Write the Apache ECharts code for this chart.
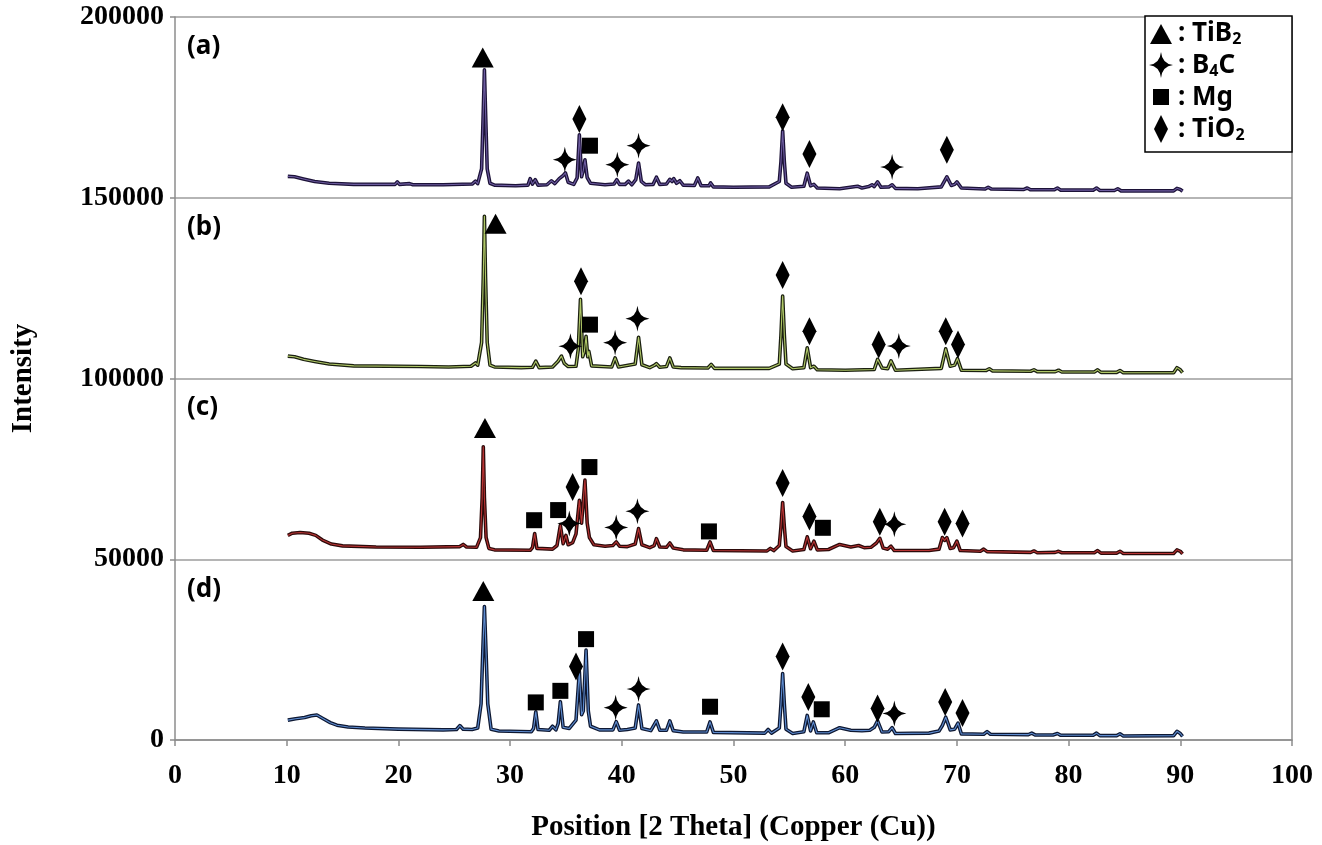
<!DOCTYPE html>
<html>
<head>
<meta charset="utf-8">
<script src="https://cdn.jsdelivr.net/npm/echarts@6/dist/echarts.min.js"></script>
<style>
  html, body { margin: 0; padding: 0; background: #fff; }
  #chart { width: 1322px; height: 845px; }
</style>
</head>
<body>
<div id="chart"></div>
<script>
// XRD patterns of four samples, stacked with 50000-count offsets.
const sampleLabels = ['(a)', '(b)', '(c)', '(d)'];
const phaseNames = ['TiB2', 'B4C', 'Mg', 'TiO2'];

// [2θ, intensity] profiles
const patternA = [
  [10.1,155900],[10.7,155800],[11.5,155200],[12.5,154500],[13.8,154000],[16,153700],[19.7,153700],[19.9,154400],[20.1,153700],[21,153900],[21.3,153600],[24,153600],[26.6,153800],[26.9,154600],[27.1,153900],[27.45,158000],[27.6,174000],[27.7,185400],[27.8,174000],[27.95,158000],[28.2,154000],[28.6,153500],[30.5,153300],[31.6,153500],[31.8,155300],[32.0,153800],[32.25,155000],[32.5,153500],[33.3,153600],[33.7,154700],[34.0,153900],[34.4,155300],[34.7,156000],[34.95,156900],[35.2,154300],[35.7,153700],[36.0,155500],[36.2,167400],[36.4,155800],[36.55,157500],[36.7,160500],[36.9,155600],[37.2,154000],[38.5,153600],[39.3,153800],[39.55,155000],[39.8,153700],[40.3,153700],[40.6,154600],[40.9,153600],[41.25,155000],[41.5,159600],[41.75,154500],[42.1,153600],[42.8,153700],[43.1,155700],[43.4,153700],[44.0,153800],[44.3,155100],[44.5,154500],[44.65,155300],[44.9,154000],[45.2,154700],[45.5,153500],[46.5,153400],[46.8,155500],[47.1,153300],[47.8,153300],[47.95,154100],[48.2,153000],[50,152900],[53.2,153000],[54.1,154500],[54.25,160000],[54.4,168500],[54.55,160000],[54.7,154000],[55.2,152900],[56.3,153200],[56.6,156800],[56.9,153300],[57.2,153700],[57.5,152700],[59.5,152500],[61.1,153200],[61.5,152700],[62.1,153100],[62.4,153600],[62.6,153100],[62.9,154400],[63.2,152900],[63.9,153000],[64.2,153600],[64.5,152600],[66.5,152500],[68.6,153000],[69.1,155800],[69.5,153400],[69.8,153700],[70.0,154400],[70.4,152700],[72.5,152400],[72.8,152900],[73.1,152400],[76.0,152300],[76.3,152700],[76.6,152200],[78.7,152200],[79.0,152700],[79.3,152100],[82.2,152100],[82.5,152700],[82.8,152000],[84.1,152000],[84.4,152500],[84.7,151900],[89.4,151900],[89.7,152600],[90.0,152300],[90.2,151800]
];
const patternB = [
  [10.1,106200],[10.7,106000],[11.5,105300],[12.5,104700],[13.8,104000],[16,103500],[22,103300],[24.5,103200],[26.5,103400],[26.9,104300],[27.1,103700],[27.45,110000],[27.6,128000],[27.7,144900],[27.8,128000],[27.95,110000],[28.2,103700],[28.6,103200],[31,103000],[32.0,103100],[32.3,104800],[32.6,103000],[33.8,103200],[34.3,104800],[34.6,106200],[34.85,104200],[35.0,104500],[35.2,103300],[35.9,103400],[36.1,108000],[36.3,121900],[36.5,106000],[36.65,107500],[36.8,111700],[36.95,106000],[37.05,107500],[37.3,103500],[39.1,103200],[39.4,105700],[39.7,103200],[41.2,104000],[41.5,111400],[41.8,103800],[42.5,103000],[42.9,103600],[43.1,104100],[43.4,103100],[44.0,103300],[44.3,105700],[44.6,103200],[45.3,103000],[47.7,102900],[48.0,103900],[48.3,102800],[53.2,102800],[54.1,104000],[54.25,112000],[54.4,122800],[54.55,112000],[54.7,104000],[55.3,102700],[56.3,103000],[56.6,108500],[56.9,103000],[57.2,103400],[57.5,102400],[60,102300],[62.6,102500],[62.9,105300],[63.3,102900],[63.8,102700],[64.1,104900],[64.5,102300],[68.6,102800],[69.0,108200],[69.4,103400],[69.8,103700],[70.05,105500],[70.4,102300],[72.6,102200],[72.9,102700],[73.2,102100],[76.6,102000],[76.9,102400],[77.2,101900],[78.8,101900],[79.1,102300],[79.4,101800],[82.3,101800],[82.6,102400],[82.9,101700],[84.3,101700],[84.6,102200],[84.9,101600],[89.4,101600],[89.7,103000],[90.0,102400],[90.2,101600]
];
const patternC = [
  [10.1,56600],[10.5,57200],[11.2,57400],[12.0,57200],[12.6,56600],[13.2,55300],[14.0,54200],[15,53700],[18,53400],[22,53300],[25.5,53500],[25.8,54100],[26.1,53400],[27.0,53300],[27.35,56000],[27.5,67000],[27.6,81100],[27.7,67000],[27.85,56000],[28.1,53000],[28.6,52600],[31.8,52500],[32.0,53200],[32.2,57100],[32.4,53000],[33.8,52800],[34.2,53800],[34.5,59400],[34.75,54300],[35.0,56600],[35.2,54000],[35.6,54600],[35.9,57000],[36.2,66300],[36.4,60000],[36.55,60500],[36.7,71900],[36.9,60000],[37.1,56000],[37.5,54000],[38.5,53600],[39.2,53800],[39.5,54800],[39.8,53600],[40.5,53500],[41.2,54200],[41.5,58500],[41.8,54000],[42.5,53200],[42.9,53800],[43.1,55700],[43.4,53400],[44.0,53300],[44.3,54500],[44.6,53100],[45.5,52600],[47.6,52500],[47.9,54800],[48.2,52400],[53.0,52300],[53.3,53000],[53.6,52400],[54.1,53800],[54.25,59000],[54.4,65700],[54.55,59000],[54.7,53500],[55.3,52300],[56.3,52700],[56.6,56200],[56.9,52900],[57.2,55000],[57.5,52600],[58.5,52700],[59.5,54100],[60.5,53400],[61.2,53800],[61.7,53200],[62.3,53300],[62.8,54500],[63.1,55800],[63.4,53100],[63.8,52800],[64.1,53600],[64.4,52400],[67.5,52400],[68.4,52800],[68.7,56000],[68.9,55200],[69.1,56000],[69.4,53000],[69.7,53200],[70.0,55000],[70.3,52400],[72.1,52200],[72.4,52800],[72.7,52100],[76.6,51900],[76.9,52300],[77.2,51800],[78.8,51900],[79.1,52200],[79.4,51800],[82.3,51800],[82.6,52400],[82.9,51700],[84.3,51700],[84.6,52200],[84.9,51600],[89.4,51600],[89.7,52600],[90.0,52200],[90.2,51500]
];
const patternD = [
  [10.1,5500],[10.8,5900],[11.6,6200],[12.2,6700],[12.7,6900],[13.2,6000],[13.9,4800],[14.5,4100],[15.5,3600],[17,3300],[20,3000],[24,2800],[25.2,2900],[25.5,4000],[25.8,3000],[26.6,2900],[27.1,3300],[27.4,10000],[27.55,24000],[27.7,36900],[27.85,24000],[28.0,10000],[28.3,3000],[29,2500],[31.9,2300],[32.1,3200],[32.3,7800],[32.5,2900],[33.5,2700],[33.8,3800],[34.1,2800],[34.3,4500],[34.5,10600],[34.75,3500],[35.3,3200],[35.9,5500],[36.2,18900],[36.4,7000],[36.55,8000],[36.8,24900],[37.0,8000],[37.2,3800],[38,2800],[39.2,2800],[39.5,5100],[39.8,2700],[40.5,2900],[41.2,3300],[41.5,9700],[41.8,3200],[42.6,2600],[43.1,5300],[43.4,2700],[44.0,2700],[44.3,5300],[44.6,2600],[45.5,2200],[47.6,2200],[47.9,5000],[48.2,2100],[52.8,1900],[53.1,2900],[53.4,1900],[54.1,3300],[54.25,10000],[54.4,18400],[54.55,10000],[54.7,3000],[55.3,1800],[56.3,2300],[56.6,6800],[56.9,2500],[57.15,5000],[57.45,2000],[58.5,2000],[59.5,3400],[60.5,2700],[61.5,2600],[62.2,2700],[62.6,3500],[62.9,5300],[63.3,2200],[63.9,2300],[64.2,3400],[64.5,1800],[67.5,1900],[68.4,2500],[68.7,4000],[69.0,6300],[69.4,2800],[69.8,3000],[70.1,4700],[70.4,1700],[72.4,1600],[72.7,2300],[73.0,1600],[76.4,1500],[76.7,1900],[77,1400],[78.6,1400],[79,1800],[79.3,1300],[82.2,1300],[82.5,1900],[82.8,1200],[84.3,1200],[84.6,1700],[84.9,1100],[89.4,1200],[89.7,2400],[90.0,1800],[90.2,1000]
];

// Phase markers [2θ, height]
const markTiB2 = [[27.55,189100],[28.7,143100],[27.75,86600],[27.6,41500]];
const markB4C = [
  [34.9,160500],[39.6,159100],[41.5,164400],[64.2,158500],
  [35.4,108900],[39.4,109900],[41.4,116500],[64.8,109000],
  [35.3,59900],[39.5,58800],[41.4,63300],[64.4,59700],
  [39.45,8900],[41.5,14100],[64.4,7300]
];
const markMg = [
  [37.15,164400],
  [37.15,114900],
  [32.15,60800],[34.3,63600],[37.1,75500],[47.8,57700],[58.0,58700],
  [32.3,10400],[34.5,13600],[36.8,27900],[47.9,9200],[57.9,8500]
];
const markTiO2 = [
  [36.2,171800],[54.4,172300],[56.8,162100],[69.1,163300],
  [36.35,126900],[54.4,128600],[56.8,113100],[63.0,109400],[69.0,113100],[70.1,109400],
  [35.6,70000],[54.4,71100],[56.8,61800],[63.1,60400],[68.9,60400],[70.5,59900],
  [35.9,20300],[54.4,23100],[56.7,11900],[62.9,8700],[68.95,10500],[70.5,7500]
];

// Symbol outlines share a 24x28 box so legend icons and markers keep proportions
const symTriangle = 'path://M0,0M24,28M12,5L23,25L1,25Z';
const symStar = 'path://M0,0M24,28M12,1Q13.2,12.8 24,14Q13.2,15.2 12,27Q10.8,15.2 0,14Q10.8,12.8 12,1Z';
const symSquare = 'path://M0,0M24,28M4,6H20V22H4Z';
const symDiamond = 'path://M0,0M24,28M12,0L19,14L12,28L5,14Z';

const serif = '"Liberation Serif", "Times New Roman", serif';
const sans = '"Noto Sans", "Open Sans", sans-serif';

const traceStyles = [
  { data: patternA, outer: '#1c1238', inner: '#6d5ca0' },
  { data: patternB, outer: '#1b2010', inner: '#b0c868' },
  { data: patternC, outer: '#2c0a0a', inner: '#b83434' },
  { data: patternD, outer: '#0e1832', inner: '#5e8cd0' }
];

const series = [];
traceStyles.forEach((t, i) => {
  series.push({
    type: 'line', name: 'trace-outer-' + i, data: t.data, symbol: 'none', silent: true,
    lineStyle: { color: t.outer, width: 3.6, join: 'round' }, z: 2
  });
  series.push({
    type: 'line', name: 'trace-inner-' + i, data: t.data, symbol: 'none', silent: true,
    lineStyle: { color: t.inner, width: 1.1, join: 'round' }, z: 3
  });
});
const markerSets = [
  [phaseNames[0], markTiB2, symTriangle],
  [phaseNames[1], markB4C, symStar],
  [phaseNames[2], markMg, symSquare],
  [phaseNames[3], markTiO2, symDiamond]
];
markerSets.forEach(([name, data, sym]) => {
  series.push({
    type: 'scatter', name: name, data: data, symbol: sym, symbolSize: [24, 28],
    itemStyle: { color: '#000', opacity: 1 }, silent: true, z: 5
  });
});

const legendText = {
  TiB2: '{t|: TiB}{s|2}',
  B4C: '{t|: B}{s|4}{t|C}',
  Mg: '{t|: Mg}',
  TiO2: '{t|: TiO}{s|2}'
};

const chart = echarts.init(document.getElementById('chart'));
chart.setOption({
  animation: false,
  backgroundColor: '#fff',
  grid: { left: 175, right: 30, top: 17, bottom: 105, containLabel: false, outerBoundsMode: 'none' },
  xAxis: {
    type: 'value', min: 0, max: 100, interval: 10,
    name: 'Position [2 Theta] (Copper (Cu))', nameLocation: 'middle', nameGap: 73,
    nameTextStyle: { fontFamily: serif, fontWeight: 'bold', fontSize: 29, color: '#000' },
    axisLine: { show: true, lineStyle: { color: '#8c8c8c', width: 1.5 } },
    axisTick: { show: true, length: 6, lineStyle: { color: '#8c8c8c', width: 1.5 } },
    axisLabel: { fontFamily: serif, fontWeight: 'bold', fontSize: 28, color: '#000', margin: 22 },
    splitLine: { show: false }
  },
  yAxis: [{
    type: 'value', min: 0, max: 200000, interval: 50000,
    name: 'Intensity', nameLocation: 'middle', nameGap: 137, nameRotate: 90,
    nameTextStyle: { fontFamily: serif, fontWeight: 'bold', fontSize: 29, color: '#000' },
    axisLine: { show: true, lineStyle: { color: '#8c8c8c', width: 1.5 } },
    axisTick: { show: true, length: 5, lineStyle: { color: '#8c8c8c', width: 1.5 } },
    axisLabel: {
      fontFamily: serif, fontWeight: 'bold', fontSize: 28, color: '#000', margin: 11,
      formatter: v => String(v)
    },
    splitLine: { show: true, lineStyle: { color: '#9c9c9c', width: 1.5 } }
  }, {
    type: 'value', min: 0, max: 200000, interval: 50000, position: 'right',
    axisLine: { show: true, lineStyle: { color: '#8c8c8c', width: 1.5 } },
    axisTick: { show: false }, axisLabel: { show: false }, splitLine: { show: false }
  }],
  legend: {
    data: phaseNames, orient: 'vertical', left: 1149, top: 19, padding: 0,
    itemWidth: 24, itemHeight: 28, itemGap: 4, z: 20,
    selectedMode: false,
    formatter: name => legendText[name],
    textStyle: {
      rich: {
        t: { fontFamily: sans, fontWeight: 'bold', fontSize: 26, color: '#000', verticalAlign: 'bottom', lineHeight: 28 },
        s: { fontFamily: sans, fontWeight: 'bold', fontSize: 16, color: '#000', verticalAlign: 'bottom', lineHeight: 19 }
      }
    }
  },
  graphic: [
    { type: 'rect', z: 10, shape: { x: 1145, y: 16, width: 147, height: 136 },
      style: { fill: '#fff', stroke: '#000', lineWidth: 1.5 } },
    ...sampleLabels.map((s, i) => ({
      type: 'text', z: 10, left: 187, top: [34, 215, 395, 577][i],
      style: { text: s, fontFamily: sans, fontWeight: 'bold', fontSize: 26, fill: '#000' }
    }))
  ],
  series: series
});
</script>
</body>
</html>
